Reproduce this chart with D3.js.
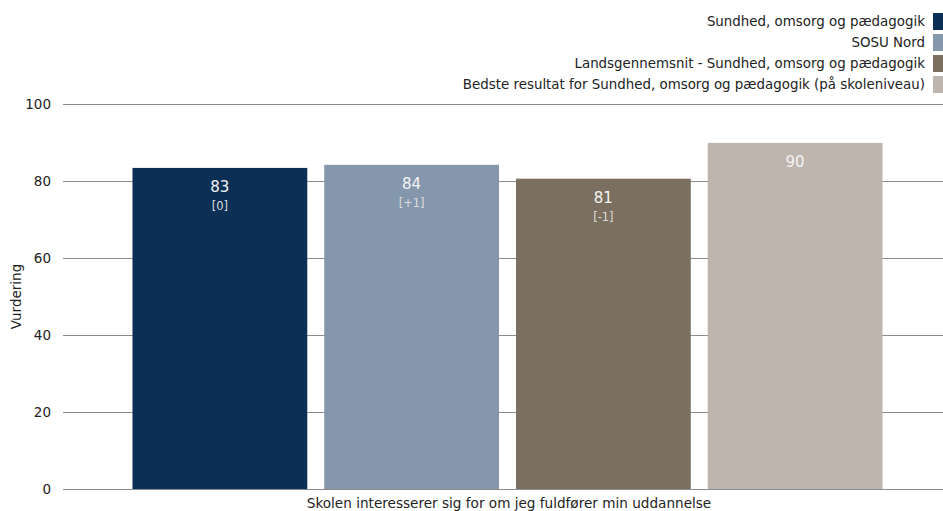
<!DOCTYPE html>
<html>
<head>
<meta charset="utf-8" />
<style>
body { margin: 0; background: white; }
svg { display: block; font-family: "DejaVu Sans", sans-serif; }
.grid line { stroke: #8c8c8c; shape-rendering: crispEdges; }
.axis text { font-size: 13.5px; fill: #222; }
</style>
<script src="https://cdnjs.cloudflare.com/ajax/libs/d3/7.8.5/d3.min.js"></script>
</head>
<body>
<div id="chart"></div>
<script>
// data
var category = "Skolen interesserer sig for om jeg fuldfører min uddannelse";
var seriesNames = [
  "Sundhed, omsorg og pædagogik",
  "SOSU Nord",
  "Landsgennemsnit - Sundhed, omsorg og pædagogik",
  "Bedste resultat for Sundhed, omsorg og pædagogik (på skoleniveau)"
];
var values = [83.4, 84.2, 80.6, 89.9];
var valueLabels = ["83", "84", "81", "90"];
var diffLabels = ["[0]", "[+1]", "[-1]", ""];
var colors = ["#0b2f55", "#8597ad", "#7b6f5f", "#bdb5ae"];
var yTicks = [0, 20, 40, 60, 80, 100];

var W = 943, H = 511;
var plot = { left: 63, right: 943, top: 104, bottom: 489 };

var svg = d3.select("#chart").append("svg")
  .attr("width", W)
  .attr("height", H);

var y = d3.scaleLinear()
  .domain([0, 100])
  .range([plot.bottom, plot.top]);

var x = d3.scaleBand()
  .domain(seriesNames)
  .range([124, 891])
  .paddingInner(0.0885)
  .paddingOuter(0.04425);

// gridlines + tick labels
var grid = svg.append("g").attr("class", "grid");
grid.selectAll("line")
  .data(yTicks)
  .enter().append("line")
  .attr("x1", plot.left)
  .attr("x2", plot.right)
  .attr("y1", function(d) { return Math.round(y(d)) + 0.5; })
  .attr("y2", function(d) { return Math.round(y(d)) + 0.5; });

var axis = svg.append("g").attr("class", "axis");
axis.selectAll("text")
  .data(yTicks)
  .enter().append("text")
  .attr("x", 51)
  .attr("y", function(d) { return y(d); })
  .attr("dy", "0.35em")
  .attr("text-anchor", "end")
  .text(function(d) { return d; });

// bars
svg.selectAll(".bar")
  .data(values)
  .enter().append("rect")
  .attr("class", "bar")
  .attr("x", function(d, i) { return x(seriesNames[i]); })
  .attr("y", function(d) { return y(d); })
  .attr("width", x.bandwidth())
  .attr("height", function(d) { return y(0) - y(d); })
  .attr("fill", function(d, i) { return colors[i]; });

// value labels inside bars
svg.selectAll(".vlabel")
  .data(values)
  .enter().append("text")
  .attr("class", "vlabel")
  .attr("x", function(d, i) { return x(seriesNames[i]) + x.bandwidth() / 2; })
  .attr("y", function(d) { return y(d) + 24; })
  .attr("text-anchor", "middle")
  .attr("font-size", "15px")
  .attr("fill", "#f4f4f4")
  .text(function(d, i) { return valueLabels[i]; });

svg.selectAll(".dlabel")
  .data(values)
  .enter().append("text")
  .attr("class", "dlabel")
  .attr("x", function(d, i) { return x(seriesNames[i]) + x.bandwidth() / 2; })
  .attr("y", function(d) { return y(d) + 42; })
  .attr("text-anchor", "middle")
  .attr("font-size", "11.5px")
  .attr("fill", "#dcdcdc")
  .text(function(d, i) { return diffLabels[i]; });

// legend, top right
var legend = svg.selectAll(".legend")
  .data(seriesNames)
  .enter().append("g")
  .attr("class", "legend")
  .attr("transform", function(d, i) { return "translate(0," + (21 + i * 21) + ")"; });

legend.append("rect")
  .attr("x", 933)
  .attr("y", -8)
  .attr("width", 12)
  .attr("height", 17)
  .attr("fill", function(d, i) { return colors[i]; });

legend.append("text")
  .attr("x", 925)
  .attr("dy", "0.35em")
  .attr("text-anchor", "end")
  .attr("font-size", "13.4px")
  .attr("fill", "#222")
  .text(function(d) { return d; });

// axis titles
svg.append("text")
  .attr("transform", "translate(16," + ((plot.top + plot.bottom) / 2) + ") rotate(-90)")
  .attr("dy", "0.35em")
  .attr("text-anchor", "middle")
  .attr("font-size", "13.5px")
  .attr("fill", "#222")
  .text("Vurdering");

svg.append("text")
  .attr("x", (plot.left + plot.right) / 2 + 6)
  .attr("y", 503)
  .attr("dy", "0.35em")
  .attr("text-anchor", "middle")
  .attr("font-size", "13.6px")
  .attr("fill", "#222")
  .text(category);
</script>
</body>
</html>
